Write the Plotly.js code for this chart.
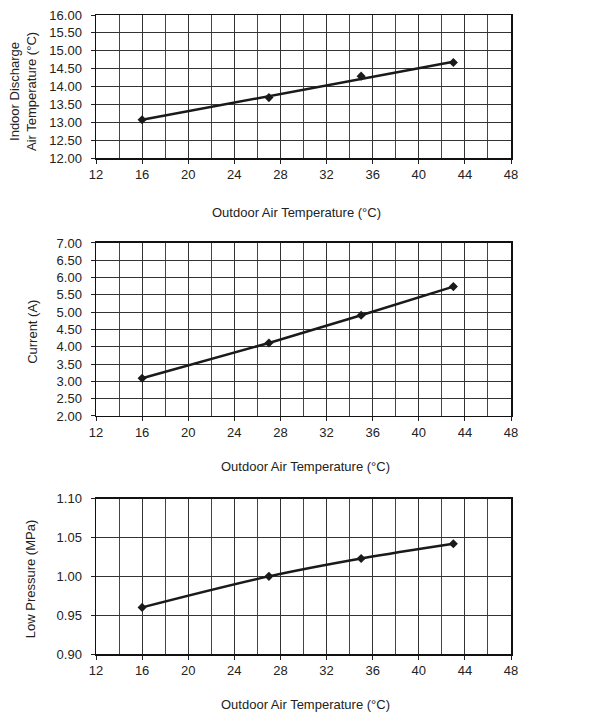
<!DOCTYPE html>
<html>
<head>
<meta charset="utf-8">
<script src="https://cdn.plot.ly/plotly-3.0.1.min.js"></script>
<style>
  body { margin: 0; background: #fff; }
  #chart { width: 597px; height: 715px; }
</style>
</head>
<body>
<div id="chart"></div>
<script>
// values
var outdoorTemp = [16, 27, 35, 43];
var dischargeTemp = [13.07, 13.69, 14.29, 14.67];
var trendX = [16, 43];
var dischargeTrend = [13.07, 14.69];
var current = [3.09, 4.11, 4.91, 5.74];
var lowPressure = [0.960, 1.000, 1.023, 1.042];

var xTitle = 'Outdoor Air Temperature (°C)';
var ink = '#1a1a1a';
var fnt = {family: 'Liberation Sans, Arial, sans-serif', size: 13, color: '#222'};

var marker = {symbol: 'diamond', size: 7, color: ink};

var data = [
  {x: trendX, y: dischargeTrend, mode: 'lines', line: {color: ink, width: 2.5},
   xaxis: 'x', yaxis: 'y', hoverinfo: 'skip'},
  {x: outdoorTemp, y: dischargeTemp, mode: 'markers', marker: marker,
   xaxis: 'x', yaxis: 'y'},
  {x: outdoorTemp, y: current, mode: 'lines+markers', marker: marker,
   line: {color: ink, width: 2.5}, xaxis: 'x2', yaxis: 'y2'},
  {x: outdoorTemp, y: lowPressure, mode: 'lines+markers', marker: marker,
   line: {color: ink, width: 2.5, shape: 'spline'}, xaxis: 'x3', yaxis: 'y3'}
];

function xAx(anchor) {
  return {
    anchor: anchor, domain: [0, 1], range: [12, 48], tick0: 12, dtick: 4,
    showgrid: true, gridcolor: '#333', gridwidth: 1,
    minor: {dtick: 2, showgrid: true, gridcolor: '#444', gridwidth: 1},
    ticks: 'outside', ticklen: 4, tickcolor: '#222',
    showline: true, mirror: true, linecolor: '#111', linewidth: 1.5,
    zeroline: false, tickfont: fnt
  };
}
function yAx(anchor, dom, rng, step) {
  return {
    anchor: anchor, domain: dom, range: rng, dtick: step, tick0: rng[0],
    tickformat: '.2f', showgrid: true, gridcolor: '#333', gridwidth: 1,
    ticks: 'outside', ticklen: 4, tickcolor: '#222', ticklabelstandoff: 6,
    showline: true, mirror: true, linecolor: '#111', linewidth: 1.5,
    zeroline: false, tickfont: fnt
  };
}

function ann(text, x, y, angle) {
  return {text: text, x: x, y: y, xref: 'paper', yref: 'paper', showarrow: false,
    textangle: angle || 0, font: fnt, xanchor: 'center', yanchor: 'middle'};
}

var layout = {
  width: 597, height: 715,
  margin: {l: 96, r: 86, t: 15, b: 61},
  paper_bgcolor: '#fff', plot_bgcolor: '#fff',
  showlegend: false,
  font: fnt,
  xaxis: xAx('y'),
  yaxis: yAx('x', [0.7762, 1], [12, 16], 0.5),
  xaxis2: xAx('y2'),
  yaxis2: yAx('x2', [0.3725, 0.6432], [2, 7], 0.5),
  xaxis3: xAx('y3'),
  yaxis3: yAx('x3', [0, 0.243], [0.9, 1.1], 0.05),
  annotations: [
    ann(xTitle, 0.482, 0.6917),
    ann(xTitle, 0.504, 0.2942),
    ann(xTitle, 0.504, -0.0798),
    ann('Indoor Discharge<br>Air Temperature (°C)', -0.176, 0.881, -90),
    ann('Current (A)', -0.152, 0.504, -90),
    ann('Low Pressure (MPa)', -0.159, 0.117, -90)
  ]
};

Plotly.newPlot('chart', data, layout, {displayModeBar: false, staticPlot: true});
</script>
</body>
</html>
